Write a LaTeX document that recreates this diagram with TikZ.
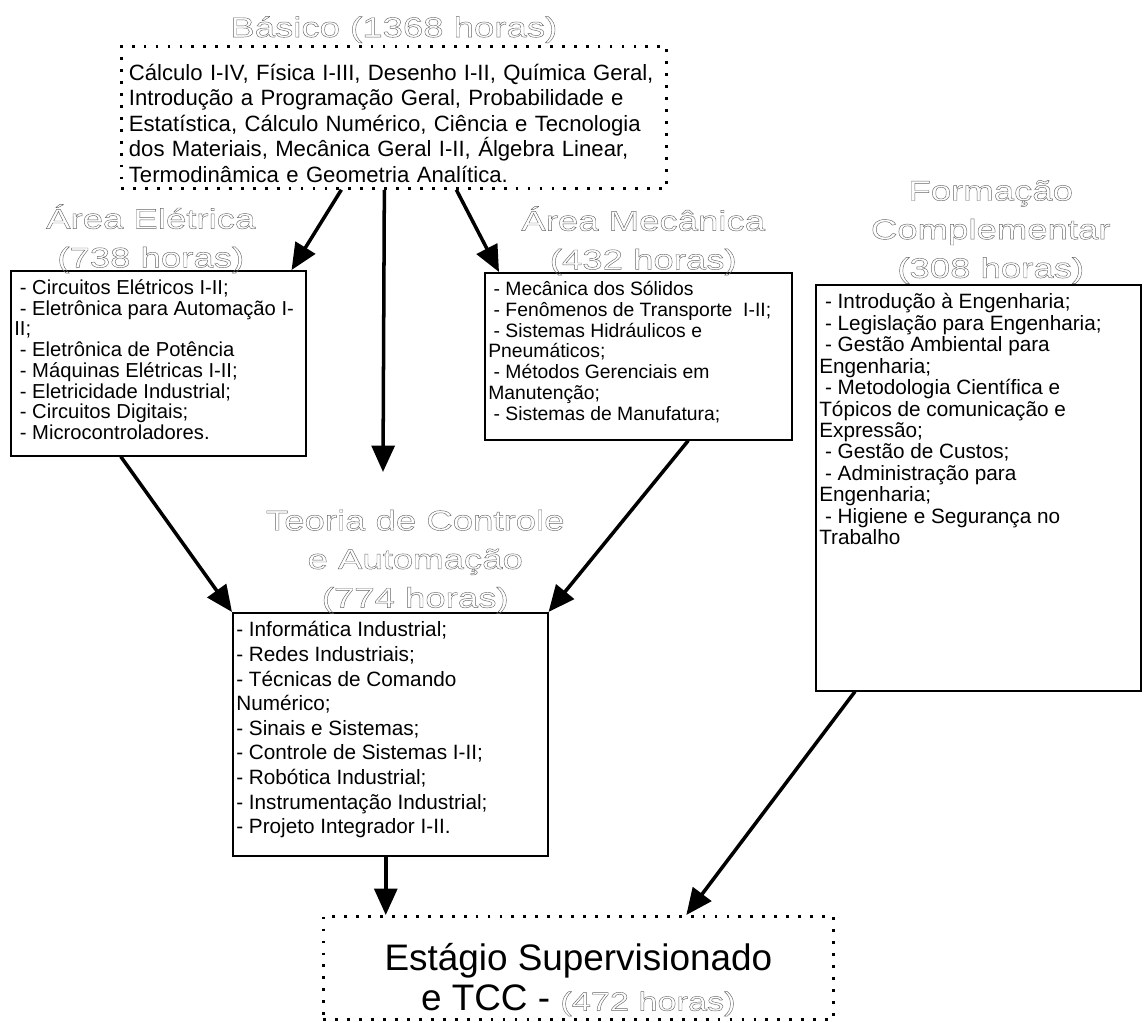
\documentclass[tikz,border=0pt]{standalone}
\usepackage{fontspec}
\setmainfont{Liberation Sans}
\newfontfamily\hollowfamily[FakeStretch=1.3]{Liberation Sans}
\usetikzlibrary{positioning,arrows.meta}

\newcommand{\outlineon}{\special{pdf:literal direct 0.25 w 1 Tr}}
\newcommand{\outlineoff}{\special{pdf:literal direct 0 Tr}}
\newcommand{\hollow}[1]{{\hollowfamily\color{black!60}\outlineon#1\outlineoff}}
\newcommand{\listbody}[3]{\parbox[t][#1][t]{#2}{\raggedright\vspace*{2pt}#3}}

\tikzstyle{heading} = [align=center, inner sep=1pt, text=black!60, font=\hollowfamily\fontsize{16}{22}\selectfont, execute at begin node=\outlineon, execute at end node=\outlineoff]
\tikzstyle{dotbox} = [rectangle, anchor=north west, draw=black, line width=1.6pt, dash pattern=on 1.6pt off 5.2pt]
\tikzstyle{listbox} = [rectangle, anchor=north west, draw=black, line width=0.9pt, inner xsep=2pt, inner ysep=3pt, font=\fontsize{11.5}{11.8}\selectfont]
\tikzstyle{arrow} = [line width=2pt, -{Triangle[length=15pt,width=13pt]}]

\begin{document}
\begin{tikzpicture}[x=0.02cm, y=-0.02cm]
\useasboundingbox (0,0) rectangle (1144,1023);

% blocos
\node (basic) [dotbox, minimum width=10.9cm, minimum height=2.84cm, text width=10.6cm, inner xsep=0.15cm, align=left, font=\fontsize{12.6}{14.5}\selectfont] at (120,45)
  {\rule{0pt}{16pt}C\'alculo I-IV, F\'isica I-III, Desenho I-II, Qu\'imica Geral,\\
   Introdu\c{c}\~ao a Programa\c{c}\~ao Geral, Probabilidade e\\
   Estat\'istica, C\'alculo Num\'erico, Ci\^encia e Tecnologia\\
   dos Materiais, Mec\^anica Geral I-II, \'Algebra Linear,\\
   Termodin\^amica e Geometria Anal\'itica.};
\node (elec) [listbox] at (10,270) {\listbody{3.49cm}{5.76cm}{%
  ~- Circuitos El\'etricos I-II;\\
  ~- Eletr\^onica para Automa\c{c}\~ao I-\\
  II;\\
  ~- Eletr\^onica de Pot\^encia\\
  ~- M\'aquinas El\'etricas I-II;\\
  ~- Eletricidade Industrial;\\
  ~- Circuitos Digitais;\\
  ~- Microcontroladores.}};
\node (mech) [listbox, font=\fontsize{11}{11.8}\selectfont] at (484,272) {\listbody{3.13cm}{6.0cm}{%
  ~- Mec\^anica dos S\'olidos\\
  ~- Fen\^omenos de Transporte~ I-II;\\
  ~- Sistemas Hidr\'aulicos e\\
  Pneum\'aticos;\\
  ~- M\'etodos Gerenciais em\\
  Manuten\c{c}\~ao;\\
  ~- Sistemas de Manufatura;}};
\node (comp) [listbox, font=\fontsize{11.8}{12.2}\selectfont] at (815,284) {\listbody{7.91cm}{6.36cm}{%
  ~- Introdu\c{c}\~ao \`a Engenharia;\\
  ~- Legisla\c{c}\~ao para Engenharia;\\
  ~- Gest\~ao Ambiental para\\
  Engenharia;\\
  ~- Metodologia Cient\'ifica e\\
  T\'opicos de comunica\c{c}\~ao e\\
  Express\~ao;\\
  ~- Gest\~ao de Custos;\\
  ~- Administra\c{c}\~ao para\\
  Engenharia;\\
  ~- Higiene e Seguran\c{c}a no\\
  Trabalho}};
\node (theo) [listbox, font=\fontsize{11.8}{14}\selectfont] at (232,612) {\listbody{4.65cm}{6.16cm}{%
  - Inform\'atica Industrial;\\
  - Redes Industriais;\\
  - T\'ecnicas de Comando\\
  Num\'erico;\\
  - Sinais e Sistemas;\\
  - Controle de Sistemas I-II;\\
  - Rob\'otica Industrial;\\
  - Instrumenta\c{c}\~ao Industrial;\\
  - Projeto Integrador I-II.}};
\node (stage) [dotbox, minimum width=10.2cm, minimum height=2.06cm, inner ysep=0pt, align=center, font=\fontsize{21}{22.8}\selectfont] at (322,915)
  {\rule{0pt}{29pt}Est\'agio Supervisionado\\ e TCC - \hollow{\fontsize{15}{15}\selectfont(472 horas)}};

% titulos
\node (basicT) [heading, above=0pt of basic] {B\'asico (1368 horas)};
\node (elecT) [heading, above=-3pt of elec, xshift=-0.15cm] {\'Area El\'etrica\\(738 horas)};
\node (mechT) [heading, above=-3pt of mech, xshift=0.1cm] {\'Area Mec\^anica\\(432 horas)};
\node (compT) [heading, above=-1pt of comp, xshift=0.25cm] {Forma\c{c}\~ao\\Complementar\\(308 horas)};
\node (theoT) [heading, above=-2pt of theo, xshift=0.5cm] {Teoria de Controle\\e Automa\c{c}\~ao\\(774 horas)};

% setas
\coordinate (drop) at (383,472);
\draw [arrow] ([xshift=-1.05cm]basic.south) -- ([xshift=-0.3cm]elec.north east);
\draw [arrow] ([xshift=-0.19cm]basic.south) -- (drop);
\draw [arrow] ([xshift=1.25cm]basic.south) -- ([xshift=0.3cm]mech.north west);
\draw [arrow] ([xshift=-0.75cm]elec.south) -- (theo.north west);
\draw [arrow] ([xshift=1cm]mech.south) -- (theo.north east);
\draw [arrow] ([xshift=-0.09cm]theo.south) -- ([xshift=-0.09cm]theo.south |- stage.north);
\draw [arrow] ([xshift=0.8cm]comp.south west) -- ([xshift=2.16cm]stage.north);
\end{tikzpicture}
\end{document}
